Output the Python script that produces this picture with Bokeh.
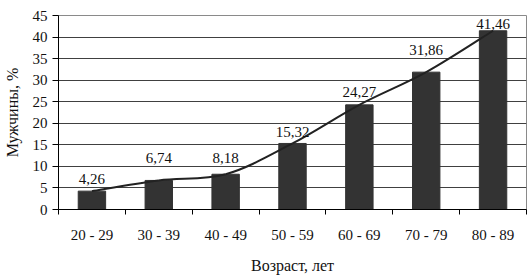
from bokeh.plotting import figure
from bokeh.models import Range1d, FixedTicker, ColumnDataSource
from bokeh.core.properties import value
from bokeh.embed import file_html
from bokeh.resources import INLINE

# ---- data ----
age_groups = ["20 - 29", "30 - 39", "40 - 49", "50 - 59", "60 - 69", "70 - 79", "80 - 89"]
men_pct = [4.26, 6.74, 8.18, 15.32, 24.27, 31.86, 41.46]
y_ticks = [0, 5, 10, 15, 20, 25, 30, 35, 40, 45]
x_title = "Возраст, лет"
y_title = "Мужчины, %"

# ---- styles ----
FONT = "Liberation Serif"
label_lift = [12, 22, 16, 11, 13, 22, 7]  # px above value for each data label

n = len(age_groups)
xs = list(range(n))

p = figure(width=530, height=279, output_backend="svg", toolbar_location=None,
           x_range=Range1d(-0.5, n - 0.5), y_range=Range1d(0, 45),
           min_border_left=57, min_border_right=4, min_border_top=15, min_border_bottom=70)
p.background_fill_color = "white"
p.border_fill_color = "white"
p.outline_line_color = "#8a8a8a"
p.outline_line_width = 1

# grid
p.xgrid.grid_line_color = None
p.ygrid.grid_line_color = "#404040"
p.ygrid.grid_line_width = 1

# bars
p.vbar(x=xs, top=men_pct, width=0.41, bottom=0, fill_color="#333333", line_color="#333333")

# smoothed line (Catmull-Rom as cubic Bezier, computed from the data points)
pts = list(zip(xs, men_pct))
bz = dict(x0=[], y0=[], x1=[], y1=[], cx0=[], cy0=[], cx1=[], cy1=[])
for i in range(n - 1):
    p0 = pts[i - 1] if i > 0 else pts[i]
    p1 = pts[i]
    p2 = pts[i + 1]
    p3 = pts[i + 2] if i + 2 < n else pts[i + 1]
    bz["x0"].append(p1[0]); bz["y0"].append(p1[1])
    bz["x1"].append(p2[0]); bz["y1"].append(p2[1])
    bz["cx0"].append(p1[0] + (p2[0] - p0[0]) / 6.0)
    bz["cy0"].append(p1[1] + (p2[1] - p0[1]) / 6.0)
    bz["cx1"].append(p2[0] - (p3[0] - p1[0]) / 6.0)
    bz["cy1"].append(p2[1] - (p3[1] - p1[1]) / 6.0)
p.bezier(source=ColumnDataSource(bz), x0="x0", y0="y0", x1="x1", y1="y1",
         cx0="cx0", cy0="cy0", cx1="cx1", cy1="cy1", line_color="#222222", line_width=2)

# data labels
lab_src = ColumnDataSource(dict(x=xs, y=men_pct,
                                t=[f"{v:.2f}".replace(".", ",") for v in men_pct],
                                dy=[-d for d in label_lift]))
p.text(x="x", y="y", text="t", y_offset="dy", source=lab_src,
       text_align="center", text_baseline="middle",
       text_font=value(FONT), text_font_size="15px", text_color="#111111")

# axes
p.xaxis.ticker = FixedTicker(ticks=xs, minor_ticks=[i - 0.5 for i in range(n + 1)])
p.xaxis.major_label_overrides = {i: g for i, g in enumerate(age_groups)}
p.xaxis.minor_tick_line_color = "black"
p.xaxis.minor_tick_out = 5
p.xaxis.minor_tick_in = 0
p.xaxis.major_label_standoff = 11
p.xaxis.axis_label = x_title
p.xaxis.axis_label_standoff = 11

p.yaxis.ticker = FixedTicker(ticks=y_ticks)
p.yaxis.major_tick_out = 6
p.yaxis.major_tick_in = 0
p.yaxis.minor_tick_line_color = None
p.yaxis.major_label_standoff = 5
p.yaxis.axis_label = y_title
p.yaxis.axis_label_standoff = 9

for ax in (p.xaxis[0], p.yaxis[0]):
    ax.axis_line_color = "black"
    ax.major_tick_line_color = "black"
    ax.major_label_text_font = FONT
    ax.major_label_text_font_size = "15px"
    ax.major_label_text_color = "#111111"
    ax.axis_label_text_font = FONT
    ax.axis_label_text_font_size = "16px"
    ax.axis_label_text_font_style = "normal"
    ax.axis_label_text_color = "#111111"
p.xaxis.major_tick_line_color = None

open("out.html", "w").write(file_html(p, INLINE))
